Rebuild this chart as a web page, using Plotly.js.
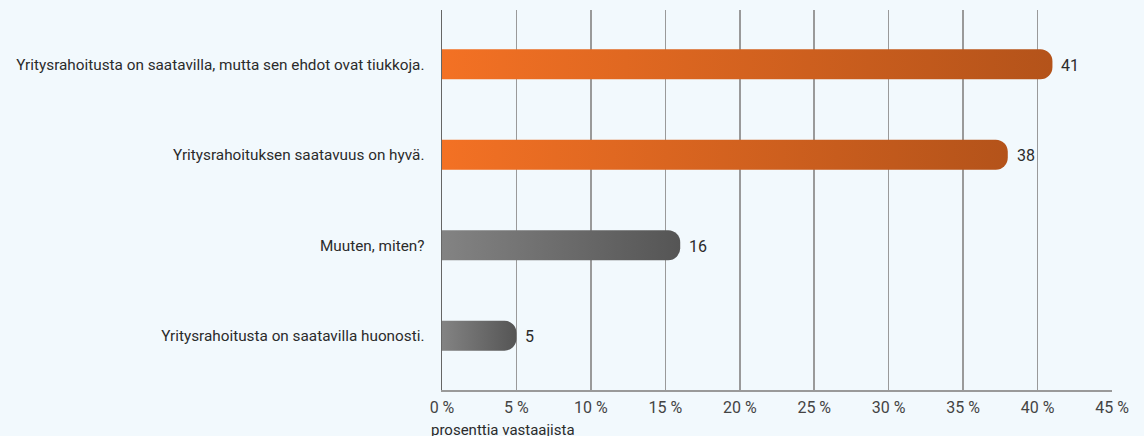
<!DOCTYPE html>
<html>
<head>
<meta charset="utf-8">
<script src="https://cdn.plot.ly/plotly-3.0.1.min.js"></script>
<style>
html,body{margin:0;padding:0;background:#f2f9fd;}
#chart{width:1144px;height:436px;}
</style>
</head>
<body>
<div id="chart"></div>
<script>
const categories = [
  "Yritysrahoitusta on saatavilla, mutta sen ehdot ovat tiukkoja.",
  "Yritysrahoituksen saatavuus on hyvä.",
  "Muuten, miten?",
  "Yritysrahoitusta on saatavilla huonosti."
];
const values = [41, 38, 16, 5];
const barGroups = ["orange", "orange", "grey", "grey"];
const tickVals = [0, 5, 10, 15, 20, 25, 30, 35, 40, 45];
const tickLabels = ["0 %", "5 %", "10 %", "15 %", "20 %", "25 %", "30 %", "35 %", "40 %", "45 %"];
const xTitle = "prosenttia vastaajista";

const FONT = "Roboto, 'Noto Sans', sans-serif";

const trace = {
  type: "bar",
  orientation: "h",
  x: values,
  y: categories,
  marker: {
    color: barGroups.map(g => g === "orange" ? "#e0651f" : "#6b6b6b"),
    cornerradius: 12,
    line: {width: 0}
  },
  width: 0.33,
  hoverinfo: "none"
};

const valueAnnotations = values.map((v, i) => ({
  text: String(v),
  x: v, y: categories[i],
  xref: "x", yref: "y",
  xanchor: "left", yanchor: "middle",
  xshift: 7, yshift: -1,
  showarrow: false,
  font: {family: FONT, size: 16, color: "#2b2b2b"}
}));

const layout = {
  width: 1144,
  height: 436,
  margin: {l: 442, r: 32, t: 10, b: 46},
  paper_bgcolor: "#f2f9fd",
  plot_bgcolor: "#f2f9fd",
  showlegend: false,
  font: {family: FONT, size: 15.3, color: "#333333"},
  xaxis: {
    range: [0, 45],
    tickvals: tickVals,
    ticktext: tickLabels,
    showgrid: true,
    gridcolor: "#9a9a9a",
    gridwidth: 1.5,
    zeroline: false,
    showline: true,
    linecolor: "#9a9a9a",
    linewidth: 1.5,
    ticks: "",
    ticklabelstandoff: 2,
    tickfont: {family: "Roboto, sans-serif", size: 16, color: "#444444"},
    fixedrange: true
  },
  yaxis: {
    type: "category",
    categoryorder: "array",
    categoryarray: categories,
    range: [3.6, -0.6],
    showgrid: false,
    zeroline: false,
    showline: true,
    linecolor: "#666666",
    linewidth: 1.5,
    ticks: "",
    ticklabelstandoff: 13,
    tickfont: {family: FONT, size: 15.3, color: "#2b2b2b"},
    fixedrange: true
  },
  annotations: valueAnnotations.concat([{
    text: xTitle,
    xref: "paper", yref: "paper",
    x: -0.019, y: -0.076,
    xanchor: "left", yanchor: "top",
    showarrow: false,
    font: {family: FONT, size: 15, color: "#2b2b2b"}
  }])
};

function applyGradients(gd) {
  const svg = gd.querySelector("svg.main-svg");
  if (!svg) return;
  let defs = svg.querySelector("defs");
  if (!defs) { defs = document.createElementNS("http://www.w3.org/2000/svg", "defs"); svg.insertBefore(defs, svg.firstChild); }
  const grads = {
    orange: ["#f37124", "#b4531a"],
    grey: ["#838383", "#555555"]
  };
  Object.keys(grads).forEach(k => {
    if (svg.querySelector("#grad-" + k)) return;
    const lg = document.createElementNS("http://www.w3.org/2000/svg", "linearGradient");
    lg.setAttribute("id", "grad-" + k);
    lg.setAttribute("x1", "0"); lg.setAttribute("y1", "0");
    lg.setAttribute("x2", "1"); lg.setAttribute("y2", "0");
    [[0, grads[k][0]], [1, grads[k][1]]].forEach(([o, c]) => {
      const s = document.createElementNS("http://www.w3.org/2000/svg", "stop");
      s.setAttribute("offset", o);
      s.setAttribute("stop-color", c);
      lg.appendChild(s);
    });
    defs.appendChild(lg);
  });
  const paths = gd.querySelectorAll(".barlayer .point path");
  paths.forEach((p, i) => {
    const g = barGroups[i];
    if (g) p.style.fill = "url(#grad-" + g + ")";
  });
}

const gd = document.getElementById("chart");
Plotly.newPlot(gd, [trace], layout, {displayModeBar: false, staticPlot: true}).then(() => {
  applyGradients(gd);
  gd.on("plotly_afterplot", () => applyGradients(gd));
});
</script>
</body>
</html>
